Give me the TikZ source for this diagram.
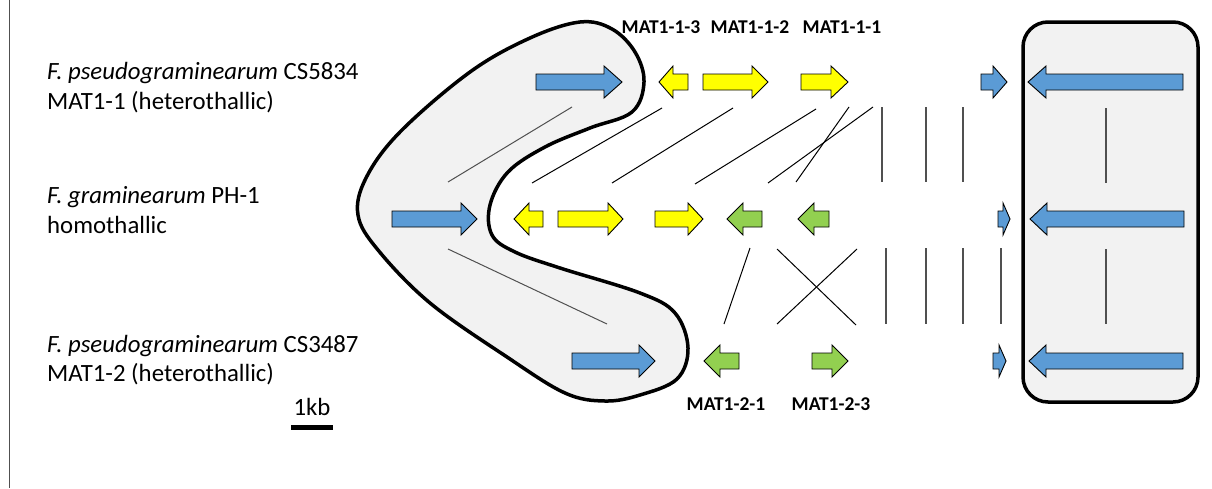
\documentclass[tikz,border=0pt]{standalone}
\usepackage{fontspec}
\setmainfont{Carlito}
\definecolor{genblue}{HTML}{5B9BD5}
\definecolor{genyellow}{HTML}{FFFF00}
\definecolor{gengreen}{HTML}{92D050}
\definecolor{boxgray}{HTML}{F2F2F2}
\definecolor{linkgray}{HTML}{505050}
\tikzset{
  gene/.style={draw=black, line width=0.9pt, line join=miter},
  region/.style={draw=black, line width=3.5pt, fill=boxgray},
  link/.style={draw=black, line width=1pt},
  vlink/.style={draw=linkgray, line width=1.4pt},
  faint/.style={draw=linkgray, line width=1pt},
  lab/.style={font=\fontsize{24.8}{30}\selectfont, anchor=base west, inner sep=0pt},
  genelab/.style={font=\bfseries\fontsize{19.5}{22}\selectfont, anchor=base, inner sep=0pt},
}
% gene pointing right: tail x, head base x, tip x, centre y, fill
\newcommand{\fwdgene}[5]{%
  \draw[gene, fill=#5] (#1,#4-8) -- (#2,#4-8) -- (#2,#4-16) -- (#3,#4)
    -- (#2,#4+16) -- (#2,#4+8) -- (#1,#4+8) -- cycle;}
% gene pointing left: tip x, head base x, tail x, centre y, fill
\newcommand{\revgene}[5]{%
  \draw[gene, fill=#5] (#1,#4) -- (#2,#4-16) -- (#2,#4-8) -- (#3,#4-8)
    -- (#3,#4+8) -- (#2,#4+8) -- (#2,#4+16) -- cycle;}
\begin{document}
\begin{tikzpicture}[x=1pt, y=-1pt]
\useasboundingbox (0,0) rectangle (1212,488);
\fill[white] (0,0) rectangle (1212,488);
\draw[draw=linkgray, line width=1.5pt] (9.5,0) -- (9.5,488);

% strain labels
\node[lab] (s1a) at (47,79) {\textit{F. pseudograminearum} CS5834};
\node[lab] (s1b) at (47,109) {MAT1-1 (heterothallic)};
\node[lab] (s2a) at (47,203) {\textit{F. graminearum} PH-1};
\node[lab] (s2b) at (47,233) {homothallic};
\node[lab] (s3a) at (47,352) {\textit{F. pseudograminearum} CS3487};
\node[lab] (s3b) at (47,381) {MAT1-2 (heterothallic)};

% scale bar
\node[lab, anchor=base] (kb) at (312,415) {1kb};
\draw[line width=5pt] (291,427.5) -- (333,427.5);

% shaded flanking regions
\draw[region] plot[smooth cycle, tension=0.6] coordinates {
  (580,22) (612,29) (635,52) (644,82) (632,112) (590,128) (545,147)
  (508,172) (490,205) (492,235) (515,252) (560,268) (640,293) (675,313)
  (688,348) (677,379) (640,395) (605,401) (565,393) (507,357) (430,303)
  (378,250) (358,215) (366,178) (400,132) (470,72) (530,38)};
\draw[region, rounded corners=25pt] (1023,22) rectangle (1198,402);

% conserved blocks between strains
\draw[faint] (572,107) -- (448,182);
\draw[link] (662,108) -- (532,183);
\draw[link] (733,108) -- (612,183);
\draw[link] (816,109) -- (695,184);
\draw[link] (849,107) -- (796,182);
\draw[link] (873,107) -- (768,183);
\foreach \x in {882,926,963} \draw[vlink] (\x,107) -- (\x,182);
\draw[vlink] (1106,108) -- (1106,183);

\draw[faint] (448,249) -- (607,324);
\draw[link] (750,248) -- (724,324);
\draw[link] (777,249) -- (856,325);
\draw[link] (857,249) -- (777,324);
\foreach \x in {886,926,963,1001} \draw[vlink] (\x,248) -- (\x,324);
\draw[vlink] (1106,249) -- (1106,324);

% genes, CS5834
\fwdgene{536}{604}{622}{82}{genblue}
\revgene{659}{673}{688}{82}{genyellow}
\fwdgene{703}{752}{768}{82}{genyellow}
\fwdgene{801}{831}{848}{82}{genyellow}
\fwdgene{981}{993}{1007}{82}{genblue}
\revgene{1028}{1046}{1183}{82}{genblue}

% genes, PH-1
\fwdgene{392}{461}{477}{219}{genblue}
\revgene{514}{529}{543}{219}{genyellow}
\fwdgene{558}{608}{623}{219}{genyellow}
\fwdgene{655}{688}{703}{219}{genyellow}
\revgene{727}{743}{762}{219}{gengreen}
\revgene{798}{814}{829}{219}{gengreen}
\fwdgene{998}{1003}{1010}{219}{genblue}
\revgene{1030}{1047}{1184}{219}{genblue}

% genes, CS3487
\fwdgene{572}{639}{655}{361}{genblue}
\revgene{704}{720}{739}{361}{gengreen}
\fwdgene{812}{832}{848}{361}{gengreen}
\fwdgene{993}{999}{1006}{361}{genblue}
\revgene{1029}{1046}{1183}{361}{genblue}

% gene names
\node[genelab] (m113) at (661,33) {MAT1-1-3};
\node[genelab] (m112) at (750,33) {MAT1-1-2};
\node[genelab] (m111) at (842,33) {MAT1-1-1};
\node[genelab] (m121) at (726,410) {MAT1-2-1};
\node[genelab] (m123) at (831,410) {MAT1-2-3};
\end{tikzpicture}
\end{document}
